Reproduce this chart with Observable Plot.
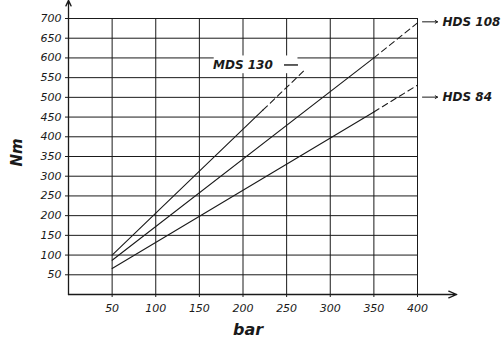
<!DOCTYPE html>
<html>
<head>
<meta charset="utf-8">
<script src="https://cdn.jsdelivr.net/npm/d3@7"></script>
<script src="https://cdn.jsdelivr.net/npm/@observablehq/plot@0.6"></script>
<style>
  html, body { margin: 0; padding: 0; background: white; }
  svg text { font-family: "DejaVu Sans", sans-serif; }
</style>
</head>
<body>
<div id="chart"></div>
<script>
// ---- data ----
const xTicks = [50, 100, 150, 200, 250, 300, 350, 400];
const yTicks = [50, 100, 150, 200, 250, 300, 350, 400, 450, 500, 550, 600, 650, 700];
const seriesNames = ["MDS 130", "HDS 108", "HDS 84"];
// each series: start of solid, end of solid (= start of dashed), end of dashed
const mds130X = [50, 223, 272];
const mds130Y = [100, 468, 572];
const hds108X = [50, 350, 400];
const hds108Y = [87, 600, 689];
const hds84X = [50, 350, 400];
const hds84Y = [66, 463, 531];
const xLabel = "bar";
const yLabel = "Nm";
const xAxisEnd = 445;   // x-axis arrow tip (bar)
const yAxisEnd = 746;   // y-axis arrow tip (Nm)

// ---- build tables ----
const allX = [mds130X, hds108X, hds84X];
const allY = [mds130Y, hds108Y, hds84Y];
const labelShift = {"HDS 108": -1, "HDS 84": 12}; // px offsets of right labels
const solid = [], dashed = [], ends = [];
seriesNames.forEach((name, i) => {
  const xs = allX[i], ys = allY[i];
  solid.push({series: name, x: xs[0], y: ys[0]}, {series: name, x: xs[1], y: ys[1]});
  dashed.push({series: name, x: xs[1], y: ys[1]}, {series: name, x: xs[2], y: ys[2]});
  ends.push({series: name, x: xs[2], y: ys[2]});
});
const leftLabels = ends.filter(d => d.series.startsWith("MDS"));
const rightLabels = ends.filter(d => d.series.startsWith("HDS"));

const ink = "#1a1a1a";
const labelFont = {fontWeight: "bold", fontStyle: "italic", fontSize: 12, fill: ink};

const marks = [
  Plot.gridX(xTicks, {stroke: ink, strokeOpacity: 1, strokeWidth: 1}),
  Plot.gridY(yTicks, {stroke: ink, strokeOpacity: 1, strokeWidth: 1}),
  Plot.axisX(xTicks, {tickSize: 3, tickPadding: 7, fontSize: 11, fontStyle: "italic", label: null, stroke: ink}),
  Plot.axisY(yTicks, {tickSize: 3, tickPadding: 4, fontSize: 11, fontStyle: "italic", label: null, stroke: ink}),
  // axes with arrows
  Plot.arrow([0], {x1: 0, y1: 0, x2: xAxisEnd, y2: 0, stroke: ink, strokeWidth: 1.3, headLength: 10, headAngle: 45}),
  Plot.arrow([0], {x1: 0, y1: 0, x2: 0, y2: yAxisEnd, stroke: ink, strokeWidth: 1.3, headLength: 7, headAngle: 50}),
  // series
  Plot.line(solid, {x: "x", y: "y", z: "series", stroke: ink, strokeWidth: 1.1}),
  Plot.line(dashed, {x: "x", y: "y", z: "series", stroke: ink, strokeWidth: 1.1, strokeDasharray: "6,4"}),
  // MDS label box (white backing over the grid)
  Plot.rect(leftLabels, {x1: d => d.x - 105, x2: d => d.x - 9, y1: d => d.y + 33, y2: d => d.y - 12, fill: "white"}),
  Plot.text(leftLabels, {x: "x", y: "y", text: "series", textAnchor: "end", dx: -33, dy: -4, ...labelFont}),
  Plot.link(leftLabels, {x1: d => d.x - 25, x2: d => d.x - 9, y1: "y", y2: "y", dy: -4,
    stroke: ink, strokeWidth: 1.4}),
  // HDS labels (right of line end, with arrow)
  ...rightLabels.map(d => Plot.arrow([d], {x1: "x", x2: e => e.x + 23, y1: "y", y2: "y", dy: labelShift[d.series],
    insetStart: 5, stroke: ink, strokeWidth: 1, headLength: 4, headAngle: 60})),
  ...rightLabels.map(d => Plot.text([d], {x: "x", y: "y", text: "series", textAnchor: "start", dx: 25,
    dy: labelShift[d.series], ...labelFont})),
  // axis titles
  Plot.text([xLabel], {frameAnchor: "bottom", text: d => d, dy: 40, dx: 5,
    fontWeight: "bold", fontStyle: "italic", fontSize: 16, fill: ink}),
  Plot.text([yLabel], {frameAnchor: "left", text: d => d, dx: -51, dy: 10, rotate: -90,
    fontWeight: "bold", fontStyle: "italic", fontSize: 15, fill: ink})
];

const chart = Plot.plot({
  width: 501,
  height: 342,
  marginLeft: 68,
  marginRight: 84,
  marginTop: 18,
  marginBottom: 48,
  x: {domain: [0, 400]},
  y: {domain: [0, 700]},
  style: {fontFamily: "DejaVu Sans", background: "white", color: ink},
  marks
});
document.getElementById("chart").appendChild(chart);
</script>
</body>
</html>
